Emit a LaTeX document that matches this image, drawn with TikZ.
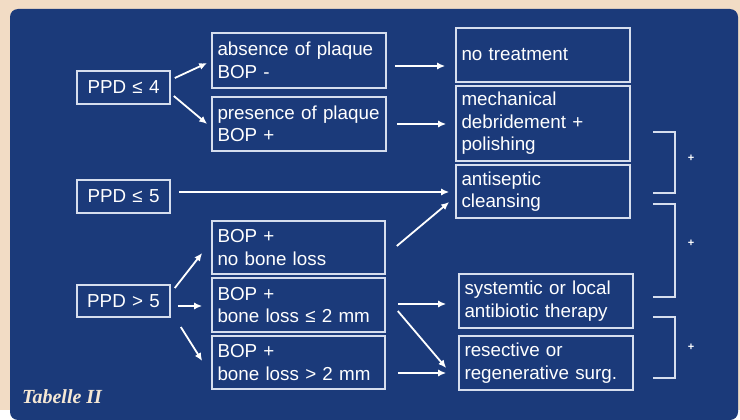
\documentclass[tikz,border=0pt]{standalone}
\usepackage{fontspec}
\setmainfont{Liberation Sans}
\newfontfamily\tabfont{Liberation Serif}
\usetikzlibrary{calc,arrows.meta}
\definecolor{bgbeige}{RGB}{242,220,197}
\definecolor{panelblue}{RGB}{27,58,122}
\definecolor{boxline}{RGB}{214,222,238}
\definecolor{capcol}{RGB}{246,232,212}
\tikzset{
  box/.style={draw=boxline, line width=1.6pt, text=white, font=\fontsize{18.8}{22.5}\selectfont,
    align=left, inner xsep=5.5pt, inner ysep=0pt, anchor=center},
  ppdbox/.style={box, align=center, text width=82pt, minimum height=33pt},
  arr/.style={draw=white, line width=1.8pt, -{Latex[length=8pt,width=7pt]}},
  brack/.style={draw=boxline, line width=1.8pt},
  plus/.style={text=white, font=\bfseries\fontsize{11}{11}\selectfont, inner sep=0pt}
}
\begin{document}
\begin{tikzpicture}[x=1pt,y=-1pt]
\fill[bgbeige] (0,0) rectangle (740,410);
\fill[panelblue, rounded corners=8pt] (10,420) -- (10,9) -- (738,9) -- (738,420) -- cycle;
\useasboundingbox (0,0) rectangle (740,410);

% left column
\node[ppdbox] (ppd4) at (123.5,87.5) {PPD~≤~4};
\node[ppdbox] (ppd5) at (123.5,196.5) {PPD~≤~5};
\node[ppdbox, minimum height=32pt] (ppd6) at (123.5,301) {PPD~>~5};

% middle column
\node[box, text width=163pt, minimum height=55pt] (abs) at (299,60.5) {absence~of~plaque\\BOP~-};
\node[box, text width=163pt, minimum height=54pt] (pres) at (299,124) {presence~of~plaque\\BOP~+};
\node[box, text width=162pt, minimum height=53pt] (nbl) at (298.5,247.5) {BOP~+\\no~bone~loss};
\node[box, text width=162pt, minimum height=54pt] (bl2) at (298.5,305) {BOP~+\\bone~loss~≤~2~mm};
\node[box, text width=162pt, minimum height=53pt] (bg2) at (298.5,362.5) {BOP~+\\bone~loss~>~2~mm};

% right column
\node[box, text width=163pt, minimum height=54pt] (notr) at (543,55) {no~treatment};
\node[box, text width=163pt, minimum height=75pt] (mech) at (543,123.5) {mechanical\\debridement~+\\polishing};
\node[box, text width=163pt, minimum height=53pt] (anti) at (543,191.5) {antiseptic\\cleansing};
\node[box, text width=163pt, minimum height=54pt] (syst) at (546,301) {systemtic~or~local\\antibiotic~therapy};
\node[box, text width=163pt, minimum height=54pt] (rese) at (546,363) {resective~or\\regenerative~surg.};

% arrows
\draw[arr] ($(ppd4.east)+(4,-9.5)$) -- ($(abs.west)+(-4,2.5)$);
\draw[arr] ($(ppd4.east)+(3,8.5)$) -- ($(pres.west)+(-4,0)$);
\draw[arr] ($(abs.east)+(8,5.5)$) -- ($(notr.west)+(-10,11)$);
\draw[arr] ($(pres.east)+(10,0)$) -- ($(mech.west)+(-9,0.5)$);
\draw[arr] ($(ppd5.east)+(8,-4.5)$) -- ($(anti.west)+(-6,0.5)$);
\draw[arr] ($(nbl.east)+(11,-1.5)$) -- ($(anti.west)+(-6,10.5)$);
\draw[arr] ($(ppd6.east)+(4,-13)$) -- ($(nbl.west)+(-9,5.5)$);
\draw[arr] ($(ppd6.east)+(7,5)$) -- ($(bl2.west)+(-9,1)$);
\draw[arr] ($(ppd6.east)+(10,26)$) -- ($(bg2.west)+(-9,-1.5)$);
\draw[arr] ($(bl2.east)+(12,-1)$) -- ($(syst.west)+(-12,3)$);
\draw[arr] ($(bl2.east)+(12,6)$) -- ($(rese.west)+(-12,5)$);
\draw[arr] ($(bg2.east)+(12,10.5)$) -- ($(rese.west)+(-12,10)$);

% brackets
\draw[brack] (653,132) -| (675,193) -- (653,193);
\draw[brack] (653,204) -| (675,297) -- (653,297);
\draw[brack] (653,317) -| (675,378) -- (653,378);
\node[plus] (p1) at (691,158) {+};
\node[plus] (p2) at (691,243) {+};
\node[plus] (p3) at (691,347) {+};

% caption
\node[anchor=west, text=capcol, inner sep=0pt, font=\tabfont\bfseries\itshape\fontsize{20}{20}\selectfont] (cap) at (22,397) {Tabelle II};
\end{tikzpicture}
\end{document}
